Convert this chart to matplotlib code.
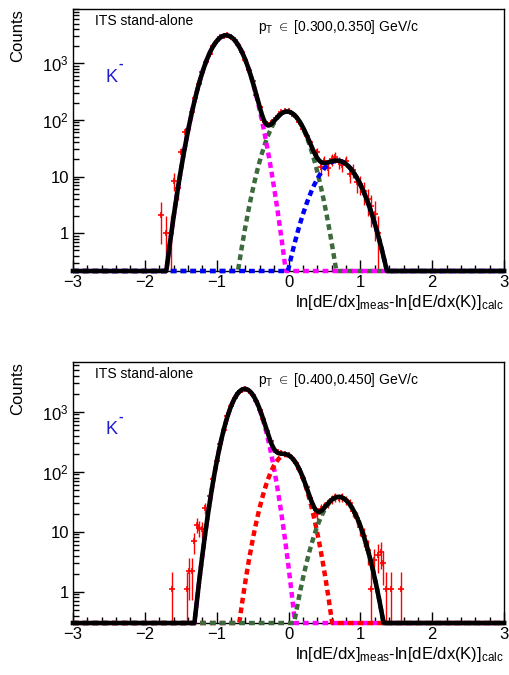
import numpy as np
import matplotlib
matplotlib.use("Agg")
import matplotlib.pyplot as plt
from matplotlib.ticker import FixedLocator, MultipleLocator, LogLocator, NullFormatter

plt.rcParams['font.family'] = ['Liberation Sans', 'DejaVu Sans']
plt.rcParams['mathtext.fontset'] = 'custom'
plt.rcParams['mathtext.rm'] = 'Liberation Sans'
plt.rcParams['mathtext.it'] = 'Liberation Sans:italic'

# --- pT bin 0.300-0.350 GeV/c ---
x_top = [-1.78, -1.71, -1.63, -1.60, -1.54, -1.49, -1.44, -1.40, -1.35, -1.30,
         -1.25, -1.20, -1.15, -1.10, -1.05, -1.00, -0.95, -0.90, -0.85, -0.80,
         -0.75, -0.70, -0.65, -0.60, -0.55, -0.50, -0.45, -0.40, -0.35, -0.30,
         -0.25, -0.20, -0.15, -0.10, -0.05, 0.00, 0.05, 0.10, 0.15, 0.20,
         0.25, 0.30, 0.35, 0.40, 0.45, 0.50, 0.55, 0.60, 0.65, 0.70,
         0.75, 0.80, 0.85, 0.90, 0.95, 1.00, 1.05, 1.10, 1.15, 1.20, 1.25]
counts_top = [2.1, 1.0, 1.0, 8.5, 6.4, 27, 62, 70, 135, 245,
              430, 690, 1060, 1480, 2000, 2450, 2850, 3080, 3090, 2880,
              2550, 2060, 1600, 1120, 760, 480, 270, 170, 98, 85,
              88, 100, 118, 135, 145, 142, 128, 112, 90, 70,
              52, 40, 26, 27, 15, 19, 14, 20, 22, 18,
              16, 19, 11, 13, 8, 7.5, 5.5, 4, 3, 2.2, 1.0]
# gaussian fit components: pi (magenta), K (green), p (blue)
amp_top = [3100, 140, 19]
mean_top = [-0.87, -0.02, 0.68]
sigma_top = [0.19, 0.19, 0.23]
colors_top = ['#ff00ff', '#3d6b3d', '#0000ff']
order_top = [1, 0, 2]

# --- pT bin 0.400-0.450 GeV/c ---
x_bot = [-1.62, -1.42, -1.38, -1.34, -1.31, -1.27, -1.24, -1.20, -1.16, -1.10,
         -1.05, -1.00, -0.95, -0.90, -0.85, -0.80, -0.75, -0.70, -0.65, -0.60,
         -0.55, -0.50, -0.45, -0.40, -0.35, -0.30, -0.25, -0.20, -0.15, -0.10,
         -0.05, 0.00, 0.05, 0.10, 0.15, 0.20, 0.25, 0.30, 0.35, 0.40,
         0.45, 0.50, 0.55, 0.60, 0.65, 0.70, 0.75, 0.80, 0.85, 0.90,
         0.95, 1.00, 1.05, 1.10, 1.15, 1.19, 1.25, 1.29, 1.32, 1.36, 1.43, 1.56]
counts_bot = [1.1, 1.1, 2.2, 2.2, 6.9, 13, 11.7, 11, 25, 40,
              75, 150, 290, 505, 840, 1230, 1690, 2060, 2340, 2390,
              2250, 1910, 1530, 1080, 745, 470, 325, 230, 210, 205,
              195, 190, 172, 138, 112, 78, 56, 36, 25, 20,
              24, 26, 30, 35, 38, 37, 38, 34, 30, 22,
              17, 12, 8.5, 5, 1.1, 3.4, 4.1, 4.5, 3.0, 1.1, 1.1, 1.1]
amp_bot = [2400, 190, 38]
mean_bot = [-0.61, -0.04, 0.70]
sigma_bot = [0.165, 0.18, 0.20]
colors_bot = ['#ff00ff', '#ff0000', '#3d6b3d']
order_bot = [0, 1, 2]

panels = [
    dict(x=x_top, y=counts_top, amp=amp_top, mean=mean_top, sigma=sigma_top,
         colors=colors_top, order=order_top, ylim=(0.215, 9000),
         pt='[0.300,0.350]', rect=[0.1434, 0.5985, 0.847, 0.388]),
    dict(x=x_bot, y=counts_bot, amp=amp_bot, mean=mean_bot, sigma=sigma_bot,
         colors=colors_bot, order=order_bot, ylim=(0.30, 6800),
         pt='[0.400,0.450]', rect=[0.1434, 0.077, 0.847, 0.387]),
]

fig = plt.figure(figsize=(5.09, 6.75), dpi=100)
xs = np.linspace(-3, 3, 1201)

for p in panels:
    ax = fig.add_axes(p['rect'])
    ax.set_yscale('log', nonpositive='clip')
    ymin, ymax = p['ylim']

    # data points
    y = np.array(p['y'], dtype=float)
    ax.errorbar(p['x'], y, yerr=np.sqrt(y), fmt='+', color='red', ms=4,
                mew=1.2, elinewidth=1.0, capsize=0, zorder=2)

    # fit components, drawn at the frame when below the y range
    total = np.zeros_like(xs)
    comps = []
    for a, m, s in zip(p['amp'], p['mean'], p['sigma']):
        g = a * np.exp(-(xs - m) ** 2 / (2 * s ** 2))
        comps.append(g)
        total += g
    for i in p['order']:
        ax.plot(xs, np.clip(comps[i], ymin, None), color=p['colors'][i], lw=3.2,
                dashes=(1.3, 0.9), clip_on=False, zorder=3,
                solid_capstyle='butt', dash_capstyle='butt')
    ax.plot(xs, np.clip(total, ymin, None), color='black', lw=3.3,
            clip_on=False, zorder=4)

    ax.set_xlim(-3, 3)
    ax.set_ylim(ymin, ymax)
    ax.xaxis.set_major_locator(MultipleLocator(1))
    ax.xaxis.set_minor_locator(MultipleLocator(0.2))
    ax.yaxis.set_major_locator(FixedLocator([1, 10, 100, 1000]))
    ax.set_yticklabels(['1', '10', '$10^{2}$', '$10^{3}$'])
    ax.yaxis.set_minor_locator(LogLocator(base=10, subs=np.arange(2, 10)))
    ax.yaxis.set_minor_formatter(NullFormatter())
    ax.tick_params(which='both', direction='in', top=False, right=False,
                   labelsize=12, width=1)
    ax.tick_params(which='major', length=8, pad=3)
    ax.tick_params(which='minor', length=4)
    for sp in ax.spines.values():
        sp.set_linewidth(1)

    ax.text(0.05, 0.955, 'ITS stand-alone', transform=ax.transAxes,
            fontsize=10, ha='left', va='center')
    ax.text(0.43, 0.93, r'p$_{\rm T}$ $\in$ ' + p['pt'] + ' GeV/c',
            transform=ax.transAxes, fontsize=10, ha='left', va='center')
    # K- label: letter plus a short raised dash
    ax.text(0.075, 0.74, 'K', transform=ax.transAxes,
            fontsize=13, color='#1e1ed2', ha='left', va='center')
    ax.text(0.106, 0.79, '-', transform=ax.transAxes,
            fontsize=10, color='#1e1ed2', ha='left', va='center',
            fontweight='bold')
    ax.set_ylabel('Counts', fontsize=12, loc='top', labelpad=12)
    ax.set_xlabel(r'ln[dE/dx]$_{\rm meas}$-ln[dE/dx(K)]$_{\rm calc}$',
                  fontsize=12, loc='right', labelpad=2)

fig.savefig('out.png', dpi=100)
